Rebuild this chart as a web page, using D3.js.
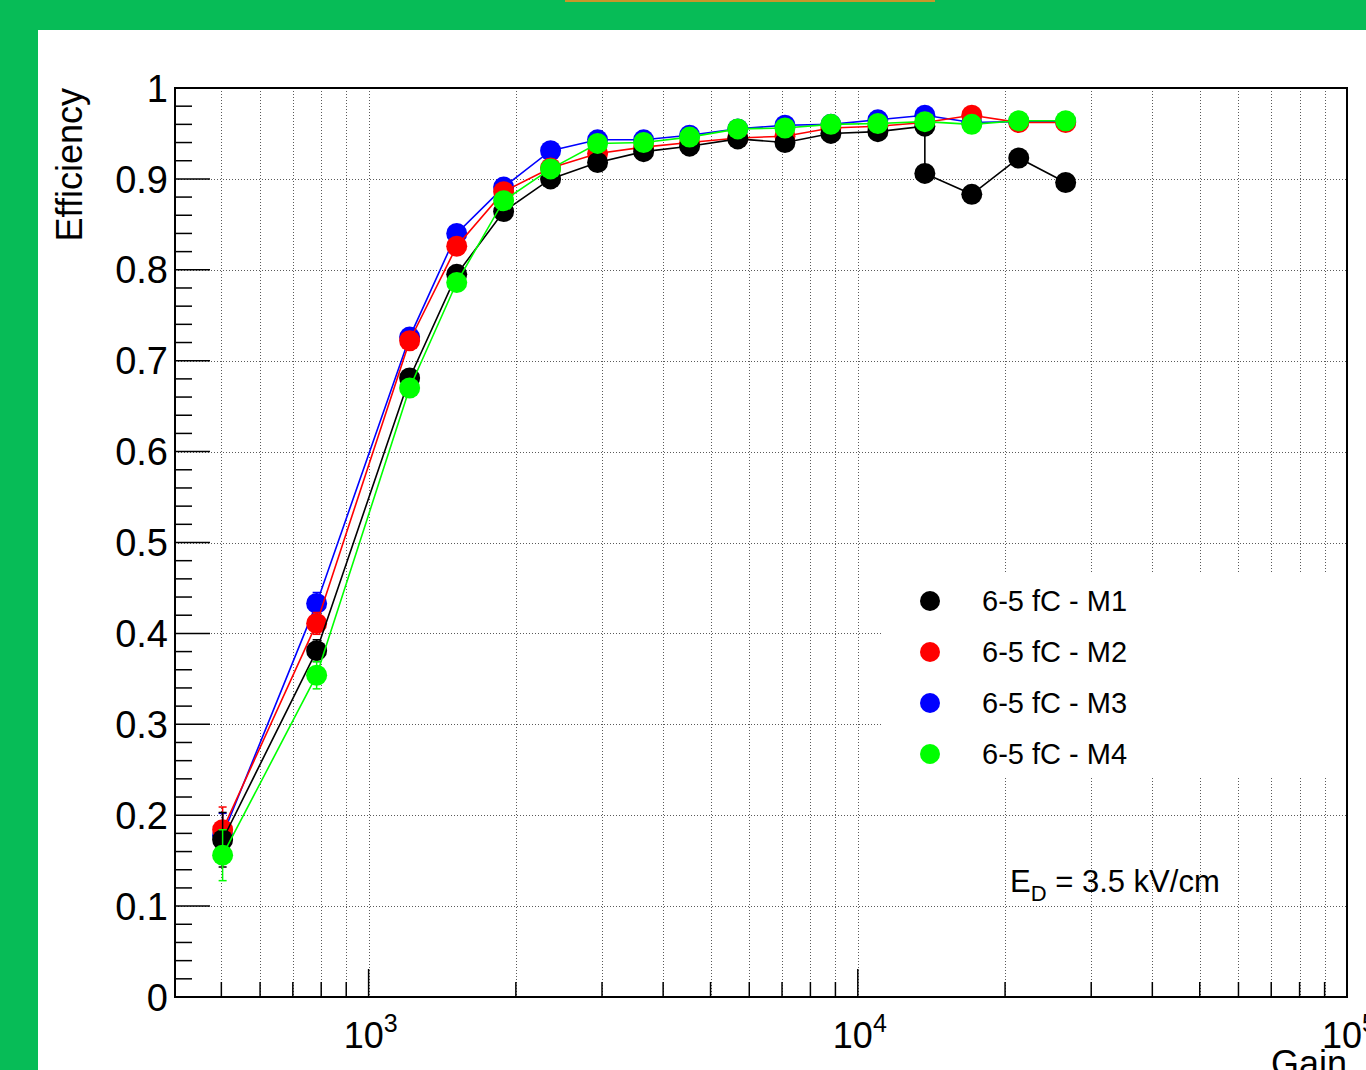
<!DOCTYPE html>
<html>
<head>
<meta charset="utf-8">
<script src="https://cdn.jsdelivr.net/npm/d3@7"></script>
<style>
  html, body { margin: 0; padding: 0; background: #07bc57; }
  svg { display: block; }
  text { font-family: "Liberation Sans", Arial, Helvetica, sans-serif; fill: #000; }
</style>
</head>
<body>
<div id="maViz"></div>
<script>
// donnees (gain en abscisse, efficacite en ordonnee)
const gain = [503, 783, 1213, 1514, 1888, 2355, 2938, 3649, 4530, 5684, 7097, 8810, 10990, 13710, 17100, 21330, 26600];
// M1 a deux mesures au meme gain (13710)
const gainM1 = [503, 783, 1213, 1514, 1888, 2355, 2938, 3649, 4530, 5684, 7097, 8810, 10990, 13710, 13710, 17100, 21330, 26600];

const effM1 = [0.173, 0.381, 0.681, 0.795, 0.864, 0.900, 0.918, 0.930, 0.936, 0.944, 0.940, 0.950, 0.952, 0.958, 0.906, 0.883, 0.923, 0.896];
const effM2 = [0.184, 0.411, 0.722, 0.826, 0.886, 0.912, 0.928, 0.935, 0.940, 0.945, 0.947, 0.956, 0.958, 0.962, 0.970, 0.962, 0.962];
const effM3 = [0.178, 0.433, 0.726, 0.840, 0.891, 0.931, 0.943, 0.943, 0.948, 0.955, 0.959, 0.960, 0.965, 0.970, 0.962, 0.963, 0.963];
const effM4 = [0.156, 0.354, 0.670, 0.786, 0.876, 0.911, 0.939, 0.940, 0.946, 0.955, 0.956, 0.960, 0.961, 0.963, 0.960, 0.964, 0.964];

const errM1 = [0.030, 0.012, 0.008, 0.006, 0.005, 0.004, 0.004, 0.004, 0.004, 0.004, 0.004, 0.004, 0.004, 0.004, 0.004, 0.004, 0.004, 0.004];
const errM2 = [0.025, 0.012, 0.008, 0.006, 0.005, 0.004, 0.004, 0.004, 0.004, 0.004, 0.004, 0.004, 0.004, 0.004, 0.004, 0.004, 0.004];
const errM3 = [0.024, 0.012, 0.008, 0.006, 0.005, 0.004, 0.004, 0.004, 0.004, 0.004, 0.004, 0.004, 0.004, 0.004, 0.004, 0.004, 0.004];
const errM4 = [0.028, 0.015, 0.008, 0.006, 0.005, 0.004, 0.004, 0.004, 0.004, 0.004, 0.004, 0.004, 0.004, 0.004, 0.004, 0.004, 0.004];

const seriesNames = ["6-5 fC - M1", "6-5 fC - M2", "6-5 fC - M3", "6-5 fC - M4"];
const seriesColors = ["#000000", "#ff0000", "#0000ff", "#00ff00"];

const yTicks = [0, 0.1, 0.2, 0.3, 0.4, 0.5, 0.6, 0.7, 0.8, 0.9, 1];
const xMajor = [1e3, 1e4, 1e5];
const xLabelExp = ["3", "4", "5"];

const xLabel = "Gain";
const yLabel = "Efficiency";

// construction des series
const series = [
  {name: seriesNames[0], color: seriesColors[0], pts: gainM1.map((g, i) => ({g, v: effM1[i], e: errM1[i]}))},
  {name: seriesNames[1], color: seriesColors[1], pts: gain.map((g, i) => ({g, v: effM2[i], e: errM2[i]}))},
  {name: seriesNames[2], color: seriesColors[2], pts: gain.map((g, i) => ({g, v: effM3[i], e: errM3[i]}))},
  {name: seriesNames[3], color: seriesColors[3], pts: gain.map((g, i) => ({g, v: effM4[i], e: errM4[i]}))}
];
// ordre de dessin : M3, M2, M1, M4 (vert au dessus)
const drawOrder = [2, 1, 0, 3];

// dimensions
const W = 1366, H = 1070;
const plot = {left: 175, right: 1347, top: 88, bottom: 997};

const svg = d3.select("#maViz").append("svg")
  .attr("width", W).attr("height", H);

// fond vert + panneau blanc
svg.append("rect").attr("width", W).attr("height", H).attr("fill", "#07bc57");
svg.append("rect").attr("x", 565).attr("y", 0).attr("width", 370).attr("height", 2).attr("fill", "#c8962a");
svg.append("rect").attr("x", 38).attr("y", 30).attr("width", W - 38).attr("height", H - 30).attr("fill", "#fff");

// echelles
const x = d3.scaleLog().domain([402, 1.0e5]).range([plot.left, plot.right]);
const y = d3.scaleLinear().domain([0, 1]).range([plot.bottom, plot.top]);

// ticks log : 2..9 x decade
const xAll = [];
[100, 1000, 10000].forEach(dec => {
  for (let k = 1; k <= 10; k++) {
    const v = dec * k;
    if (v >= 402 && v <= 1.0e5) xAll.push(v);
  }
});
const xAllUnique = Array.from(new Set(xAll)).sort((a, b) => a - b);
const yMinor = d3.range(0, 1.0001, 0.02).map(v => +v.toFixed(2));

// grille pointillee
const grid = svg.append("g").attr("stroke", "#5a5a5a").attr("stroke-width", 1).attr("stroke-dasharray", "1,2");
grid.selectAll("line.gx").data(xAllUnique).join("line")
  .attr("x1", d => Math.round(x(d)) + 0.5).attr("x2", d => Math.round(x(d)) + 0.5)
  .attr("y1", plot.top).attr("y2", plot.bottom);
grid.selectAll("line.gy").data(yTicks.slice(1, -1)).join("line")
  .attr("x1", plot.left).attr("x2", plot.right)
  .attr("y1", d => Math.round(y(d)) + 0.5).attr("y2", d => Math.round(y(d)) + 0.5);

// ticks axe x (vers le haut)
const ticks = svg.append("g").attr("stroke", "#000").attr("stroke-width", 1.5);
ticks.selectAll("line.tx").data(xAllUnique).join("line")
  .attr("x1", d => x(d)).attr("x2", d => x(d))
  .attr("y1", plot.bottom).attr("y2", d => plot.bottom - (xMajor.includes(d) ? 28 : 15));
// ticks axe y (vers la droite)
ticks.selectAll("line.ty").data(yMinor).join("line")
  .attr("x1", plot.left).attr("x2", d => plot.left + (Math.abs(d * 10 - Math.round(d * 10)) < 1e-6 ? 35 : 17))
  .attr("y1", d => y(d)).attr("y2", d => y(d));

// cadre
svg.append("rect")
  .attr("x", plot.left).attr("y", plot.top)
  .attr("width", plot.right - plot.left).attr("height", plot.bottom - plot.top)
  .attr("fill", "none").attr("stroke", "#000").attr("stroke-width", 2);

// labels axe y
svg.append("g").selectAll("text").data(yTicks).join("text")
  .attr("x", plot.left - 7).attr("y", d => y(d))
  .attr("dy", "0.36em")
  .attr("text-anchor", "end")
  .style("font-size", "38px")
  .text(d => d === 0 || d === 1 ? d3.format("d")(d) : d3.format(".1f")(d));

// labels axe x : 10^n
const xl = svg.append("g").selectAll("text").data(xMajor).join("text")
  .attr("x", d => x(d) + 2).attr("y", 1048)
  .attr("text-anchor", "middle")
  .style("font-size", "36px");
xl.append("tspan").text("10");
xl.append("tspan").attr("dy", -16).style("font-size", "25px").text((d, i) => xLabelExp[i]);

// titres des axes
svg.append("text")
  .attr("x", plot.right).attr("y", 1076)
  .attr("text-anchor", "end").style("font-size", "36px").text(xLabel);
svg.append("text")
  .attr("transform", `translate(82,${plot.top}) rotate(-90)`)
  .attr("text-anchor", "end").style("font-size", "36px").text(yLabel);

// courbes
const line = d3.line().x(d => x(d.g)).y(d => y(d.v));
const courbes = svg.append("g");
drawOrder.forEach(k => {
  const s = series[k];
  const g = courbes.append("g");
  // barres d'erreur
  g.selectAll("line.err").data(s.pts).join("line")
    .attr("x1", d => x(d.g)).attr("x2", d => x(d.g))
    .attr("y1", d => y(d.v - d.e)).attr("y2", d => y(d.v + d.e))
    .attr("stroke", s.color).attr("stroke-width", 1.5);
  g.append("g").selectAll("line").data(s.pts.filter(d => d.e > 0.01)).join("line")
    .attr("x1", d => x(d.g) - 4).attr("x2", d => x(d.g) + 4)
    .attr("y1", d => y(d.v - d.e)).attr("y2", d => y(d.v - d.e))
    .attr("stroke", s.color).attr("stroke-width", 1.5);
  g.append("g").selectAll("line").data(s.pts.filter(d => d.e > 0.01)).join("line")
    .attr("x1", d => x(d.g) - 4).attr("x2", d => x(d.g) + 4)
    .attr("y1", d => y(d.v + d.e)).attr("y2", d => y(d.v + d.e))
    .attr("stroke", s.color).attr("stroke-width", 1.5);
  g.append("path").datum(s.pts)
    .attr("d", line).attr("fill", "none")
    .attr("stroke", s.color).attr("stroke-width", 1.6);
  g.append("g").selectAll("circle").data(s.pts).join("circle")
    .attr("cx", d => x(d.g)).attr("cy", d => y(d.v))
    .attr("r", 10.5).attr("fill", s.color);
});

// legende (fond blanc)
const leg = svg.append("g");
leg.append("rect").attr("x", 882).attr("y", 574).attr("width", plot.right - 1 - 882).attr("height", 204).attr("fill", "#fff");
const legRows = leg.selectAll("g.row").data(series).join("g")
  .attr("transform", (d, i) => `translate(0,${601 + i * 51})`);
legRows.append("circle").attr("cx", 930).attr("cy", 0).attr("r", 10).attr("fill", d => d.color);
legRows.append("text").attr("x", 982).attr("y", 0).attr("dy", "0.36em")
  .style("font-size", "29px").text(d => d.name);

// annotation E_D
const ed = svg.append("text").attr("x", 1010).attr("y", 892).style("font-size", "31px");
ed.append("tspan").text("E");
ed.append("tspan").attr("dy", 9).style("font-size", "22px").text("D");
ed.append("tspan").attr("dy", -9).text(" = 3.5 kV/cm");
</script>
</body>
</html>
